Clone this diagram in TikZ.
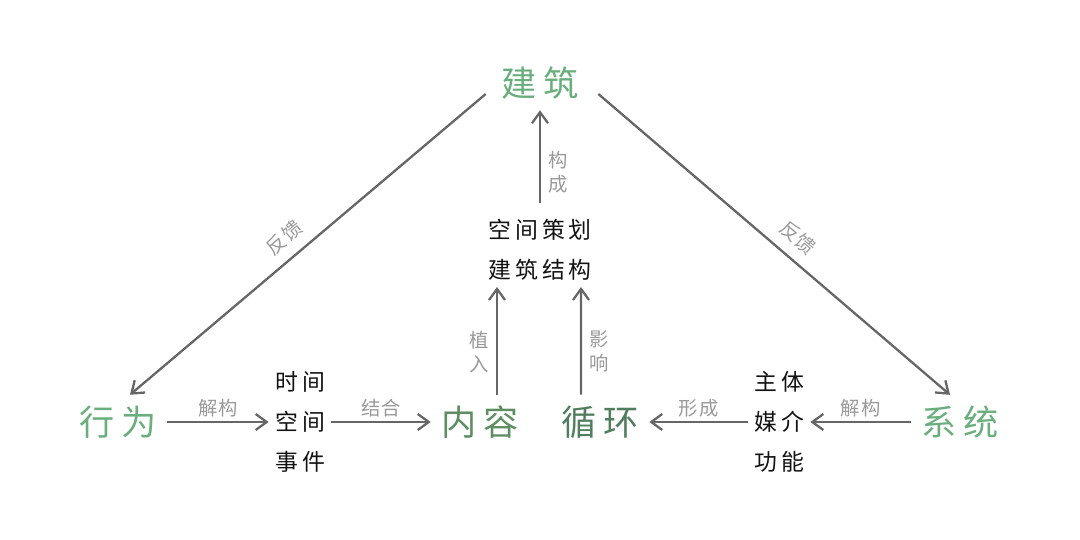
\documentclass[tikz,border=0pt]{standalone}
\usepackage{fontspec}
\usetikzlibrary{arrows.meta}
\newfontfamily\cjk[LetterSpace=18]{Noto Sans CJK SC}
\newfontfamily\cjklab[LetterSpace=6]{Noto Sans CJK SC}
\definecolor{leafgreen}{HTML}{6AAE7D}
\definecolor{mossgreen}{HTML}{5E8D62}
\definecolor{pinegreen}{HTML}{4F7D5D}
\definecolor{linegray}{HTML}{666666}
\definecolor{labgray}{HTML}{999999}
\tikzset{
  bigword/.style={inner sep=0pt,outer sep=.22cm,font=\fontsize{20}{24}\selectfont\cjk},
  stackword/.style={inner sep=0pt,outer sep=.13cm,align=center,text=black!93,
    font=\fontsize{13}{22.7}\selectfont\cjk},
  link/.style={->,draw=linegray,line width=1.3pt},
  lab/.style={text=labgray,font=\fontsize{11}{13}\selectfont\cjklab,inner sep=2pt},
  vlab/.style={lab,align=center,inner sep=4pt,font=\fontsize{11}{13.6}\selectfont\cjklab}
}
\begin{document}
\begin{tikzpicture}[>={Straight Barb[length=2.2mm,width=3.2mm]}]
		\useasboundingbox (0,0) rectangle (21.6,10.8);
		% main words
		\node[bigword,text=leafgreen] (jz) at (10.8,9.14) {建筑};
		\node[bigword,text=leafgreen] (xw) at (2.36,2.36) {行为};
		\node[bigword,text=leafgreen] (xt) at (19.2,2.36) {系统};
		\node[bigword,text=mossgreen] (nr) at (9.6,2.36) {内容};
		\node[bigword,text=pinegreen] (xh) at (12.0,2.36) {循环};
		% stacked words
		\node[stackword] (sj) at (6.0,2.36) {时间\\空间\\事件};
		\node[stackword] (zt) at (15.58,2.36) {主体\\媒介\\功能};
		\node[stackword] (kj) at (10.8,5.8) {空间策划\\建筑结构};
		% feedback lines
		\draw[link] ([xshift=-.1cm,yshift=-.22cm]jz.west) -- ([xshift=.24cm]xw.north)
		node[lab,pos=.53,sloped,above,inner sep=6pt]{反馈};
		\draw[link] ([xshift=.18cm,yshift=-.22cm]jz.east) -- ([xshift=-.2cm]xt.north)
		node[lab,pos=.53,sloped,above,inner sep=6pt]{反馈};
		% bottom row
		\draw[link] (xw) -- (sj) node[lab,midway,above]{解构};
		\draw[link] (sj) -- (nr) node[lab,midway,above]{结合};
		\draw[link] (zt) -- (xh) node[lab,midway,above]{形成};
		\draw[link] (xt) -- (zt) node[lab,midway,above]{解构};
		% upward arrows
		\draw[link] ([xshift=.34cm]nr.north) -- ([xshift=-.86cm]kj.south)
		node[vlab,pos=.4,left]{植\\入};
		\draw[link] ([xshift=-.38cm]xh.north) -- ([xshift=.82cm]kj.south)
		node[vlab,pos=.4,right]{影\\响};
		\draw[link,shorten <=.2cm] (kj.north) -- (jz.south)
		node[vlab,pos=.4,right]{构\\成};
		\end{tikzpicture}
\end{document}
